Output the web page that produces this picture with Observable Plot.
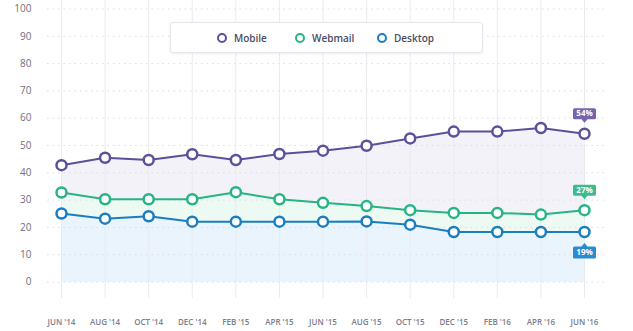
<!DOCTYPE html>
<html>
<head>
<meta charset="utf-8">
<script src="https://cdn.jsdelivr.net/npm/d3@7"></script>
<script src="https://cdn.jsdelivr.net/npm/@observablehq/plot@0.6"></script>
<style>
  html, body { margin: 0; padding: 0; background: #fff; }
  #wrap { position: relative; width: 633px; height: 331px; font-family: "Open Sans", Lato, sans-serif; }
  #legend { position: absolute; left: 170px; top: 22px; width: 311px; height: 29px;
    background: #fff; border: 1px solid #e4e6ed; border-radius: 3px;
    box-shadow: 0 1px 3px rgba(40,40,80,0.07); }
  .item { position: absolute; top: 0; height: 29px; display: flex; align-items: center;
    font-size: 10px; color: #4a4d62; font-weight: 600; }
  .ring { width: 6px; height: 6px; border-radius: 50%; border: 2.5px solid; margin-right: 7px; background: #fff; }
</style>
</head>
<body>
<div id="wrap"><div id="chart"></div><div id="legend"></div></div>
<script>
const months = ["JUN '14","AUG '14","OCT '14","DEC '14","FEB '15","APR '15","JUN '15","AUG '15","OCT '15","DEC '15","FEB '16","APR '16","JUN '16"];
const mobile  = [42.8, 45.5, 44.7, 46.8, 44.7, 46.9, 48.1, 49.9, 52.6, 55.1, 55.1, 56.4, 54.3];
const webmail = [32.8, 30.3, 30.3, 30.3, 32.9, 30.3, 29.0, 27.8, 26.3, 25.3, 25.3, 24.7, 26.3];
const desktop = [25.1, 23.2, 24.1, 22.1, 22.1, 22.1, 22.1, 22.2, 21.0, 18.3, 18.3, 18.3, 18.3];
const yTicks = [0, 10, 20, 30, 40, 50, 60, 70, 80, 90, 100];
const seriesNames = ["Mobile", "Webmail", "Desktop"];
const endLabels = ["54%", "27%", "19%"];

const lineColors = {Mobile: "#5d4f9a", Webmail: "#27b485", Desktop: "#1b7dc1"};
const areaColors = {Mobile: "#f4f2f9", Webmail: "#edf9f3", Desktop: "#eaf4fc"};
const tagColors  = {Mobile: "#7466ad", Webmail: "#3dbb90", Desktop: "#2a8bd0"};

const seriesValues = [mobile, webmail, desktop];
const rows = [];
seriesNames.forEach((s, k) => months.forEach((m, i) => rows.push({series: s, month: m, value: seriesValues[k][i]})));
const last = seriesNames.map((s, k) => ({series: s, month: months[months.length - 1], value: seriesValues[k][months.length - 1], label: endLabels[k], below: s === "Desktop"}));

function callout(below) {
  return {
    draw(ctx) {
      const w = 11.5, r = 1.5;
      const t = below ? 14.5 : -25.5, b = below ? 26.5 : -14.5;
      ctx.moveTo(-w + r, t);
      if (below) { ctx.lineTo(-3, t); ctx.lineTo(0, t - 3.5); ctx.lineTo(3, t); }
      ctx.lineTo(w - r, t);
      ctx.arcTo(w, t, w, t + r, r);
      ctx.lineTo(w, b - r);
      ctx.arcTo(w, b, w - r, b, r);
      if (!below) { ctx.lineTo(3, b); ctx.lineTo(0, b + 3.5); ctx.lineTo(-3, b); }
      ctx.lineTo(-w + r, b);
      ctx.arcTo(-w, b, -w, b - r, r);
      ctx.lineTo(-w, t + r);
      ctx.arcTo(-w, t, -w + r, t, r);
      ctx.closePath();
    }
  };
}

const marks = [];
seriesNames.forEach(s => {
  marks.push(Plot.areaY(rows.filter(d => d.series === s), {x: "month", y: "value", fill: areaColors[s]}));
});
marks.push(Plot.ruleY(yTicks, {stroke: "#d9dce4", strokeDasharray: "1.5,4", strokeWidth: 1}));
marks.push(Plot.ruleX(months, {y1: -6, y2: 103, stroke: "#e9ebf0", strokeWidth: 1}));
marks.push(Plot.axisY({ticks: yTicks, tickSize: 0, tickPadding: 16, fontSize: 10, fill: "#6d7080", label: null}));
marks.push(Plot.axisX({tickSize: 0, tickPadding: 37, fontSize: 8, fill: "#7b7e8c", fontWeight: 600, label: null}));
seriesNames.forEach(s => {
  const d = rows.filter(r => r.series === s);
  marks.push(Plot.line(d, {x: "month", y: "value", stroke: lineColors[s], strokeWidth: 2}));
  marks.push(Plot.dot(d, {x: "month", y: "value", r: 5, fill: "#fff", stroke: lineColors[s], strokeWidth: 2.5}));
});
last.forEach(d => {
  marks.push(Plot.dot([d], {x: "month", y: "value", symbol: callout(d.below), r: 5, fill: tagColors[d.series], stroke: "none"}));
  marks.push(Plot.text([d], {x: "month", y: "value", text: "label", dy: d.below ? 20.5 : -20, fill: "#fff", fontSize: 8, fontWeight: 700}));
});

const chart = Plot.plot({
  width: 633, height: 331,
  marginLeft: 47, marginRight: 27, marginTop: 8.5, marginBottom: 49.5,
  style: {fontFamily: "'Open Sans', Lato, sans-serif", background: "#fff"},
  x: {type: "point", domain: months, padding: 0, round: false, insetLeft: 14, insetRight: 22, axis: null},
  y: {domain: [0, 100], axis: null},
  marks
});
document.getElementById("chart").appendChild(chart);

const legend = document.getElementById("legend");
const legendX = [46, 124, 206];
seriesNames.forEach((s, k) => {
  const it = document.createElement("div");
  it.className = "item";
  it.style.left = legendX[k] + "px";
  it.innerHTML = `<span class="ring" style="border-color:${lineColors[s]}"></span>${s}`;
  legend.appendChild(it);
});
</script>
</body>
</html>
